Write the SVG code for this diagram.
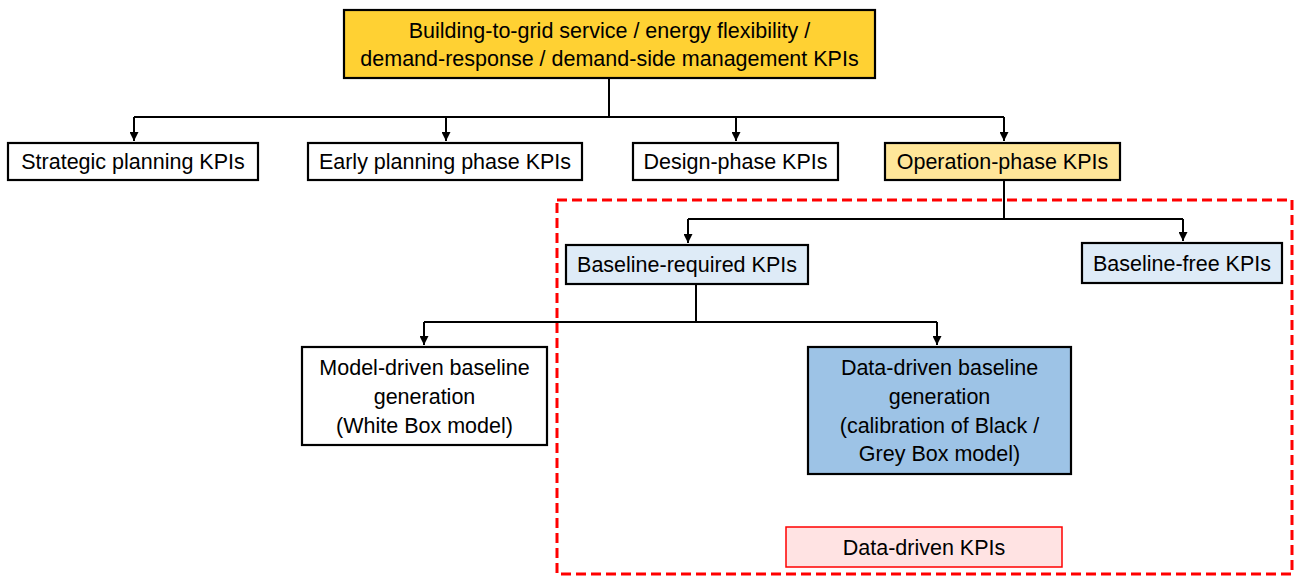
<svg xmlns="http://www.w3.org/2000/svg" width="1295" height="577" viewBox="0 0 1295 577">
<defs>
<style>
.box{stroke:#000;stroke-width:2.2}
.t{font-family:"Liberation Sans",Arial,sans-serif;font-size:21.5px;fill:#000;text-anchor:middle}
.c{fill:none;stroke:#000;stroke-width:2}
</style>
<marker id="ah" viewBox="0 0 10 10" refX="10" refY="5" markerWidth="4.5" markerHeight="4.5" markerUnits="strokeWidth" orient="auto">
<path d="M0,0 L10,5 L0,10 z" fill="#000"/>
</marker>
</defs>
<rect width="1295" height="577" fill="#fff"/>
<g id="region">
<rect x="557" y="200" width="735" height="374" fill="none" stroke="#f00" stroke-width="3" stroke-dasharray="10,5"/>
</g>
<g id="connectors">
<path class="c" d="M609,78 V117"/>
<path class="c" d="M134,117 H1004"/>
<path class="c" d="M134,117 V141" marker-end="url(#ah)"/>
<path class="c" d="M446,117 V141" marker-end="url(#ah)"/>
<path class="c" d="M736,117 V141" marker-end="url(#ah)"/>
<path class="c" d="M1004,117 V141" marker-end="url(#ah)"/>
<path class="c" d="M1004,180 V219"/>
<path class="c" d="M688,219 H1183"/>
<path class="c" d="M688,219 V243" marker-end="url(#ah)"/>
<path class="c" d="M1183,219 V241" marker-end="url(#ah)"/>
<path class="c" d="M696,284 V322"/>
<path class="c" d="M424,322 H937"/>
<path class="c" d="M424,322 V345" marker-end="url(#ah)"/>
<path class="c" d="M937,322 V345" marker-end="url(#ah)"/>
</g>
<g id="root">
<rect class="box" x="344" y="10" width="531" height="68" fill="#FFD133"/>
<text class="t" x="609.5" y="38">Building-to-grid service / energy flexibility /</text>
<text class="t" x="609.5" y="66">demand-response / demand-side management KPIs</text>
</g>
<g id="strategic">
<rect class="box" x="8" y="143" width="250" height="37" fill="#fff"/>
<text class="t" x="133" y="169">Strategic planning KPIs</text>
</g>
<g id="early">
<rect class="box" x="308" y="143" width="274" height="37" fill="#fff"/>
<text class="t" x="445" y="169">Early planning phase KPIs</text>
</g>
<g id="design">
<rect class="box" x="633" y="143" width="205" height="37" fill="#fff"/>
<text class="t" x="735.5" y="169">Design-phase KPIs</text>
</g>
<g id="operation">
<rect class="box" x="885" y="143" width="235" height="37" fill="#FFE699"/>
<text class="t" x="1002.5" y="169">Operation-phase KPIs</text>
</g>
<g id="baseline-required">
<rect class="box" x="566" y="245" width="242" height="39" fill="#DEEBF7"/>
<text class="t" x="687" y="272">Baseline-required KPIs</text>
</g>
<g id="baseline-free">
<rect class="box" x="1082" y="243" width="200" height="40" fill="#DEEBF7"/>
<text class="t" x="1182" y="271">Baseline-free KPIs</text>
</g>
<g id="model-driven">
<rect class="box" x="302" y="347" width="245" height="98" fill="#fff"/>
<text class="t" x="424.5" y="375">Model-driven baseline</text>
<text class="t" x="424.5" y="404">generation</text>
<text class="t" x="424.5" y="433">(White Box model)</text>
</g>
<g id="data-driven">
<rect class="box" x="808" y="347" width="263" height="127" fill="#9DC3E6"/>
<text class="t" x="939.5" y="375">Data-driven baseline</text>
<text class="t" x="939.5" y="404">generation</text>
<text class="t" x="939.5" y="433">(calibration of Black /</text>
<text class="t" x="939.5" y="461">Grey Box model)</text>
</g>
<g id="data-driven-kpis">
<rect x="786" y="527" width="276" height="40" fill="#FFE3E3" stroke="#f00" stroke-width="1.5"/>
<text class="t" x="924" y="555">Data-driven KPIs</text>
</g>
</svg>
